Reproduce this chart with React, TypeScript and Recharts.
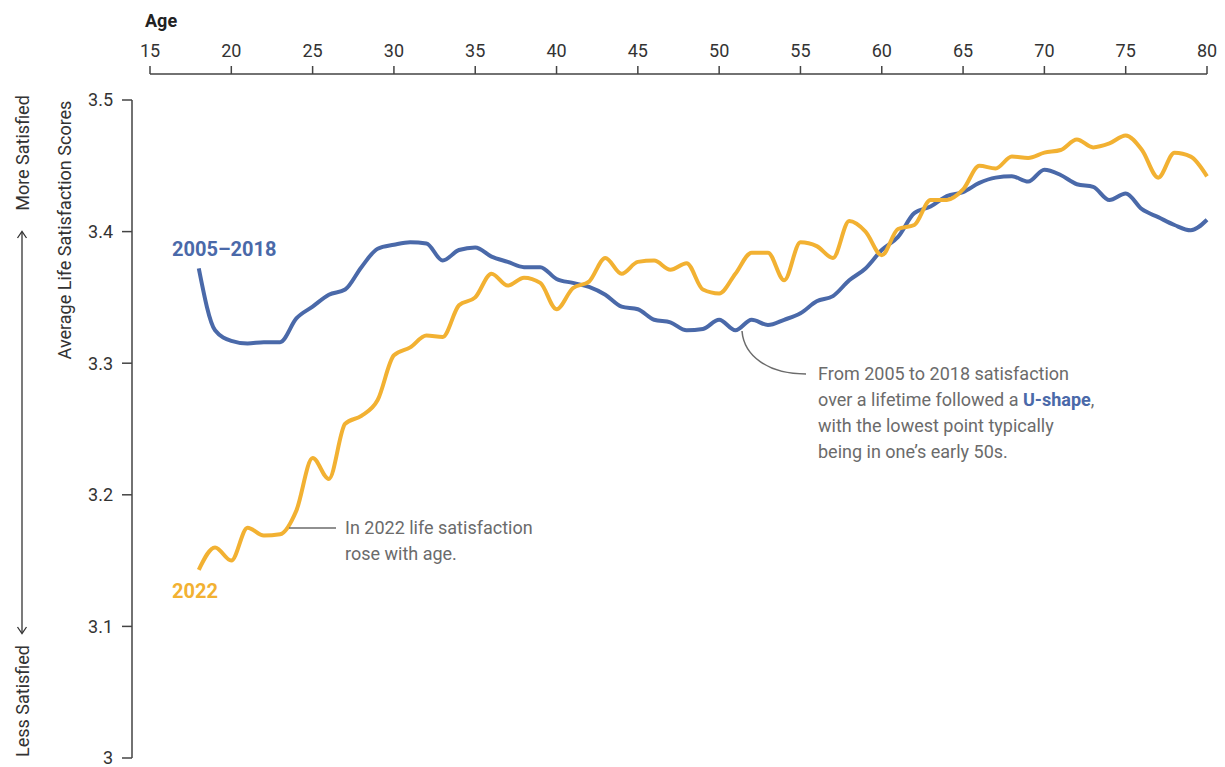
import { LineChart, Line, XAxis, YAxis } from 'recharts';

const BLUE = '#4A69A9';
const GOLD = '#F2B132';
const INK = '#333';
const NOTE = '#6b6b6b';

// ages 18..80, one point per year
const ages = Array.from({ length: 63 }, (_, i) => 18 + i);

const score2005to2018 = [
    3.372, 3.325, 3.317, 3.315, 3.316, 3.316, 3.334, 3.343, 3.352, 3.356,
    3.373, 3.387, 3.390, 3.392, 3.391, 3.378, 3.386, 3.388, 3.381, 3.377,
    3.373, 3.373, 3.364, 3.361, 3.358, 3.352, 3.343, 3.341, 3.333, 3.331,
    3.325, 3.326, 3.333, 3.325, 3.333, 3.329, 3.333, 3.338, 3.347, 3.351,
    3.363, 3.372, 3.386, 3.396, 3.414, 3.419, 3.427, 3.430, 3.437, 3.441,
    3.442, 3.438, 3.447, 3.443, 3.436, 3.434, 3.424, 3.429, 3.417, 3.411,
    3.405, 3.401, 3.409,
];

const score2022 = [
    3.143, 3.160, 3.150, 3.175, 3.169, 3.170, 3.188, 3.228, 3.212, 3.254,
    3.260, 3.272, 3.306, 3.312, 3.321, 3.320, 3.344, 3.350, 3.368, 3.359,
    3.365, 3.361, 3.341, 3.357, 3.362, 3.380, 3.368, 3.377, 3.378, 3.371,
    3.376, 3.356, 3.353, 3.368, 3.384, 3.384, 3.363, 3.392, 3.389, 3.380,
    3.408, 3.400, 3.382, 3.402, 3.405, 3.424, 3.424, 3.432, 3.450, 3.448,
    3.457, 3.456, 3.460, 3.462, 3.470, 3.464, 3.467, 3.473, 3.462, 3.441,
    3.460, 3.457, 3.442,
];

const ageTicks = [15, 20, 25, 30, 35, 40, 45, 50, 55, 60, 65, 70, 75, 80];
const scoreTicks = [3, 3.1, 3.2, 3.3, 3.4, 3.5];

const data = ages.map((age, i) => ({
    age,
    early: score2005to2018[i],
    recent: score2022[i],
}));

const Overlay = () => (
    <svg
        width={1225}
        height={767}
        style={{ position: 'absolute', left: 0, top: 0, pointerEvents: 'none' }}
        fontFamily="Roboto, sans-serif"
    >
        <text x={145} y={27} fontSize={18} fontWeight={700} fill="#222">Age</text>

        <text transform="translate(71,230) rotate(-90)" textAnchor="middle" fontSize={18} fill={INK}>
            Average Life Satisfaction Scores
        </text>
        <text transform="translate(29,153) rotate(-90)" textAnchor="middle" fontSize={18} fill={INK}>
            More Satisfied
        </text>
        <text transform="translate(29,645) rotate(-90)" textAnchor="end" fontSize={18} fill={INK}>
            Less Satisfied
        </text>
        <line x1={22} y1={232} x2={22} y2={633} stroke={INK} strokeWidth={1.3} />
        <path d="M17.5,238 L22,231.5 L26.5,238" fill="none" stroke={INK} strokeWidth={1.3} />
        <path d="M17.5,627 L22,633.5 L26.5,627" fill="none" stroke={INK} strokeWidth={1.3} />

        <text x={172} y={256} fontSize={20} fontWeight={700} fill={BLUE}>2005–2018</text>
        <text x={172} y={598} fontSize={20} fontWeight={700} fill={GOLD}>2022</text>

        <line x1={289} y1={528} x2={336} y2={528} stroke={NOTE} strokeWidth={1.5} />
        <text x={345} y={534} fontSize={18} fill={NOTE}>
            <tspan x={345}>In 2022 life satisfaction</tspan>
            <tspan x={345} dy={26}>rose with age.</tspan>
        </text>

        <path d="M742,331 C744,356 768,374 806,374" fill="none" stroke={NOTE} strokeWidth={1.5} />
        <text x={818} y={380} fontSize={18} fill={NOTE}>
            <tspan x={818}>From 2005 to 2018 satisfaction</tspan>
            <tspan x={818} dy={26}>over a lifetime followed a </tspan>
            <tspan fontWeight={700} fill={BLUE}>U-shape</tspan>
            <tspan>,</tspan>
            <tspan x={818} dy={26}>with the lowest point typically</tspan>
            <tspan x={818} dy={26}>being in one’s early 50s.</tspan>
        </text>
    </svg>
);

const App = () => {
    return (
        <div
            style={{
                position: 'absolute', left: 0, top: 0, width: 1225, height: 767,
                background: '#fff', overflow: 'hidden', fontFamily: 'Roboto, sans-serif',
            }}
        >
            <LineChart width={1225} height={767} data={data} margin={{ top: 34, right: 18, bottom: 9, left: 72 }}>
                <XAxis
                    dataKey="age"
                    type="number"
                    orientation="top"
                    domain={[15, 80]}
                    ticks={ageTicks}
                    interval={0}
                    height={40}
                    padding={{ left: 18, right: 0 }}
                    tickSize={8}
                    tickMargin={9}
                    axisLine={{ stroke: '#444', strokeWidth: 1.5, strokeDasharray: '0 18 3000' }}
                    tickLine={{ stroke: '#444', strokeWidth: 1.5 }}
                    tick={{ fill: INK, fontSize: 18 }}
                />
                <YAxis
                    type="number"
                    domain={[3, 3.5]}
                    ticks={scoreTicks}
                    interval={0}
                    width={60}
                    padding={{ top: 26, bottom: 0 }}
                    tickSize={10}
                    tickMargin={9}
                    tickFormatter={(v: number) => String(+v.toFixed(1))}
                    axisLine={{ stroke: '#444', strokeWidth: 1.5, strokeDasharray: '0 26 3000' }}
                    tickLine={{ stroke: '#444', strokeWidth: 1.5 }}
                    tick={{ fill: INK, fontSize: 18 }}
                />
                <Line
                    type="monotone"
                    dataKey="early"
                    stroke={BLUE}
                    strokeWidth={4}
                    dot={false}
                    isAnimationActive={false}
                />
                <Line
                    type="monotone"
                    dataKey="recent"
                    stroke={GOLD}
                    strokeWidth={4}
                    dot={false}
                    isAnimationActive={false}
                />
            </LineChart>
            <Overlay />
        </div>
    );
};

export default App;
